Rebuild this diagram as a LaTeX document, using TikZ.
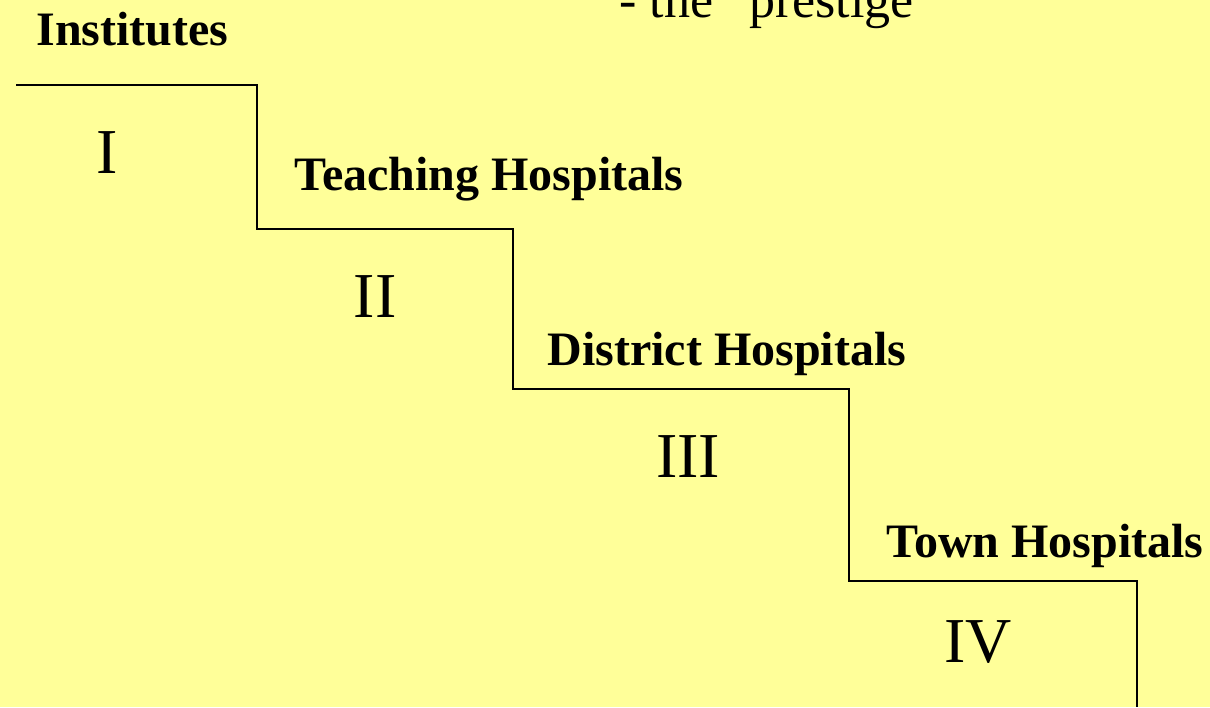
\documentclass[tikz,border=0pt]{standalone}
\usepackage{fontspec}
\setmainfont{Liberation Serif}
\usepackage{xcolor}
\usetikzlibrary{positioning}
\definecolor{slideYellow}{RGB}{255,255,153}

\begin{document}
\begin{tikzpicture}[
        x=0.5pt, y=-0.5pt,
        level/.style={inner sep=0pt, anchor=base west, font=\fontsize{24}{28}\selectfont\bfseries},
        numeral/.style={inner sep=0pt, anchor=base, font=\fontsize{32}{38}\selectfont},
        stair/.style={line width=0.8pt}
    ]
        % Background
        \fill[slideYellow] (0,0) rectangle (1210,707);
        \useasboundingbox (0,0) rectangle (1210,707);

        % Heading (cut off at the top)
        \node[inner sep=0pt, anchor=base west, font=\fontsize{26}{30}\selectfont] (heading) at (619,17) {- the ``prestige''};

        % Step corners
        \coordinate (s0) at (16,85);
        \coordinate (s1) at (257,85);
        \coordinate (s2) at (257,229);
        \coordinate (s3) at (513,229);
        \coordinate (s4) at (513,389);
        \coordinate (s5) at (849,389);
        \coordinate (s6) at (849,581);
        \coordinate (s7) at (1137,581);
        \coordinate (s8) at (1137,707);

        % Staircase
        \draw[stair] (s0) -- (s1) -- (s2) -- (s3) -- (s4) -- (s5) -- (s6) -- (s7) -- (s8);

        % Level names
        \node[level] (inst) at (36,45) {Institutes};
        \node[level] (teach) at (294,190) {Teaching Hospitals};
        \node[level] (dist) at (547,365) {District Hospitals};
        \node[level] (town) at (886,557) {Town Hospitals};

        % Level numbers
        \node[numeral] (lvlI) at (107,173) {I};
        \node[numeral] (lvlII) at (375,317) {II};
        \node[numeral] (lvlIII) at (688,477) {III};
        \node[numeral] (lvlIV) at (978,662) {IV};
    \end{tikzpicture}
\end{document}
